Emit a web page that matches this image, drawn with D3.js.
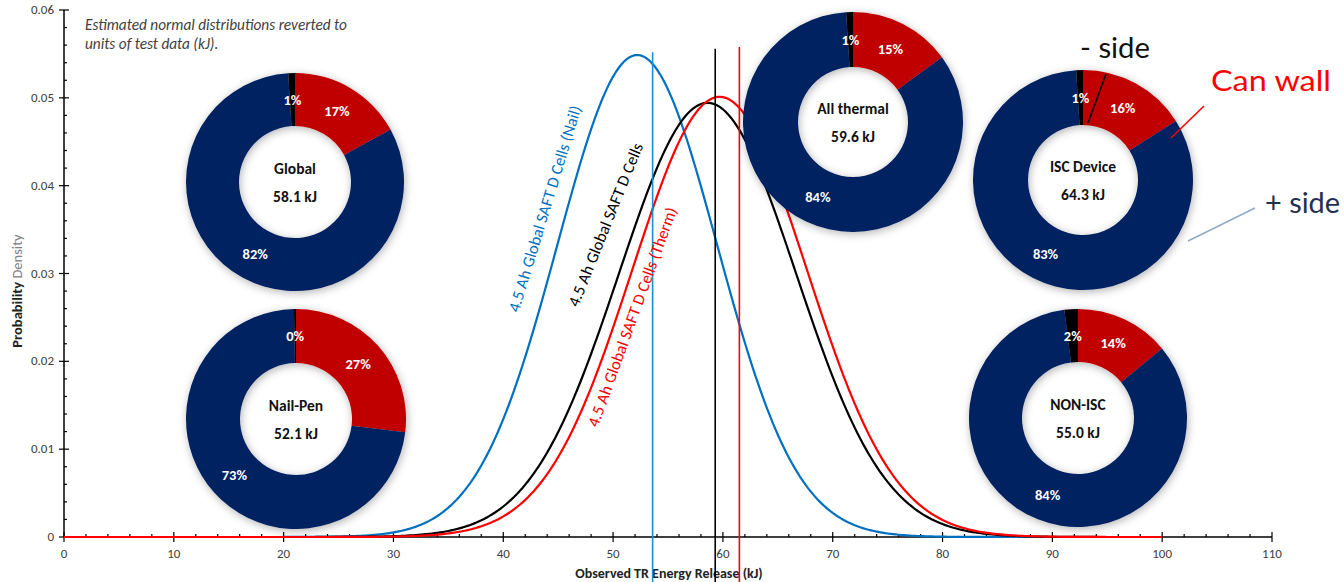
<!DOCTYPE html>
<html lang="en">
<head>
  <meta charset="UTF-8">
  <title>TR Energy Release distributions</title>
  <script src="https://d3js.org/d3.v7.min.js"></script>
  <style>
    body { margin: 0; background: #fff; }
    svg { display: block; font-family: Carlito, Calibri, "Liberation Sans", Arial, sans-serif; }
    .tick-label { font-size: 13px; fill: #404040; }
    .axis-title { font-size: 14px; font-weight: bold; fill: #222; }
    .y-title { font-size: 14.5px; font-weight: bold; fill: #222; }
    .curve-label { font-size: 16.5px; }
    .pct { font-size: 14.5px; font-weight: bold; fill: #fff; }
    .center-label { font-size: 15.5px; font-weight: bold; fill: #111; }
    .note { font-size: 15.3px; font-style: italic; fill: #404040; }
    .callout { font-family: Lato, "DejaVu Sans", sans-serif; font-size: 29px; }
  </style>
</head>
<body>
  <svg width="1344" height="582"></svg>

  <script>
    // estimated normal distributions (mean, std dev in kJ)
    const seriesNames = ["4.5 Ah Global SAFT D Cells (Nail)", "4.5 Ah Global SAFT D Cells", "4.5 Ah Global SAFT D Cells (Therm)"];
    const seriesMeans = [52.2, 58.6, 59.7];
    const seriesSds = [7.27, 8.07, 7.96];
    const seriesColors = ["#0070c0", "#000000", "#ff0000"];

    // vertical marker lines (observed averages)
    const markerX = [53.6, 59.3, 61.5];
    const markerTop = [0.0552, 0.0556, 0.0558];
    const markerColors = ["#1a90d0", "#000000", "#ff0000"];

    // donut charts: share of energy by location
    const donutNames = ["Global", "Nail-Pen", "All thermal", "ISC Device", "NON-ISC"];
    const donutTotals = ["58.1 kJ", "52.1 kJ", "59.6 kJ", "64.3 kJ", "55.0 kJ"];
    const canWall = [17, 27, 15, 16, 14];
    const plusSide = [82, 73, 84, 83, 84];
    const minusSide = [1, 0.3, 1, 1, 2];
    const sliceColors = ["#c00000", "#002060", "#000000"];

    const xTicks = d3.range(0, 111, 10);
    const yTicks = [0, 0.01, 0.02, 0.03, 0.04, 0.05, 0.06];

    const width = 1344, height = 582;
    const svg = d3.select("svg");

    const x = d3.scaleLinear().domain([0, 110]).range([64, 1272]);
    const y = d3.scaleLinear().domain([0, 0.06]).range([537, 10]);

    const defs = svg.append("defs");
    const f = defs.append("filter").attr("id", "shadow")
      .attr("x", "-20%").attr("y", "-20%").attr("width", "140%").attr("height", "140%");
    f.append("feDropShadow").attr("dx", 1).attr("dy", 2).attr("stdDeviation", 4)
      .attr("flood-color", "#000").attr("flood-opacity", 0.3);

    // note text
    svg.append("text").attr("class", "note").attr("x", 85).attr("y", 30)
      .text("Estimated normal distributions reverted to");
    svg.append("text").attr("class", "note").attr("x", 85).attr("y", 49)
      .text("units of test data (kJ).");

    // axes
    const axisG = svg.append("g");
    axisG.append("line").attr("x1", x(0)).attr("x2", x(110)).attr("y1", y(0)).attr("y2", y(0))
      .attr("stroke", "#000").attr("stroke-width", 1.5);
    axisG.append("line").attr("x1", x(0)).attr("x2", x(0)).attr("y1", y(0)).attr("y2", y(0.06))
      .attr("stroke", "#000").attr("stroke-width", 1.5);

    // x ticks
    d3.range(0, 111, 2).forEach(v => {
      const major = v % 10 === 0;
      axisG.append("line").attr("x1", x(v)).attr("x2", x(v))
        .attr("y1", major ? y(0) - 5 : y(0) - 3).attr("y2", major ? y(0) + 5 : y(0))
        .attr("stroke", "#000").attr("stroke-width", 1.2);
    });
    axisG.selectAll(".xl").data(xTicks).enter().append("text")
      .attr("class", "tick-label").attr("x", d => x(d)).attr("y", 558)
      .attr("text-anchor", "middle").text(d => d);

    // y ticks
    d3.range(0, 0.0601, 0.002).forEach(v => {
      const major = Math.abs(v * 100 - Math.round(v * 100)) < 1e-6;
      axisG.append("line").attr("y1", y(v)).attr("y2", y(v))
        .attr("x1", major ? x(0) - 5 : x(0)).attr("x2", major ? x(0) + 5 : x(0) + 3)
        .attr("stroke", "#000").attr("stroke-width", 1.2);
    });
    axisG.selectAll(".yl").data(yTicks).enter().append("text")
      .attr("class", "tick-label").attr("x", 54).attr("y", d => y(d) + 4)
      .attr("text-anchor", "end").text(d => d === 0 ? "0" : d3.format(".2f")(d));

    // axis titles
    svg.append("text").attr("class", "axis-title")
      .attr("x", 669).attr("y", 578).attr("text-anchor", "middle")
      .text("Observed TR Energy Release (kJ)");
    const yt = svg.append("text").attr("class", "y-title")
      .attr("transform", "translate(22,291) rotate(-90)").attr("text-anchor", "middle");
    yt.append("tspan").text("Probability ");
    yt.append("tspan").attr("fill", "#808080").attr("font-weight", "normal").text("Density");

    // density curves
    const xs = d3.range(0, 100.01, 0.25);
    const line = d3.line().x(d => x(d[0])).y(d => y(d[1]));
    seriesMeans.forEach((m, i) => {
      const s = seriesSds[i];
      const pts = xs.map(v => [v, Math.exp(-0.5 * ((v - m) / s) ** 2) / (s * Math.sqrt(2 * Math.PI))]);
      svg.append("path").datum(pts).attr("d", line)
        .attr("fill", "none").attr("stroke", seriesColors[i]).attr("stroke-width", 2.2);
    });

    // marker lines
    markerX.forEach((v, i) => {
      svg.append("line").attr("x1", x(v)).attr("x2", x(v))
        .attr("y1", y(markerTop[i])).attr("y2", height)
        .attr("stroke", markerColors[i]).attr("stroke-width", 1.6);
    });

    // rotated curve labels (anchor in data units)
    const labelPos = [[41.4, 0.0255, -73], [46.8, 0.0261, -68], [48.6, 0.0124, -70]];
    seriesNames.forEach((n, i) => {
      const p = labelPos[i];
      svg.append("text").attr("class", "curve-label")
        .attr("transform", `translate(${x(p[0])},${y(p[1])}) rotate(${p[2]})`)
        .attr("fill", seriesColors[i]).text(n);
    });

    // donuts
    const donutLayout = [
      { cx: 295, cy: 182, R: 109, r: 56 },
      { cx: 296, cy: 419, R: 110, r: 56 },
      { cx: 853, cy: 122, R: 110, r: 55 },
      { cx: 1083, cy: 180, R: 110, r: 55 },
      { cx: 1078, cy: 418, R: 109, r: 56 }
    ];
    const pie = d3.pie().sort(null).value(d => d);
    donutNames.forEach((name, i) => {
      const L = donutLayout[i];
      const vals = [canWall[i], plusSide[i], minusSide[i]];
      const total = d3.sum(vals);
      const arc = d3.arc().innerRadius(L.r).outerRadius(L.R);
      const labelArc = d3.arc().innerRadius((L.R + L.r) / 2).outerRadius((L.R + L.r) / 2);
      const g = svg.append("g").attr("transform", `translate(${L.cx},${L.cy})`);
      const slices = g.append("g").attr("filter", "url(#shadow)");
      slices.selectAll("path").data(pie(vals)).enter().append("path")
        .attr("d", arc).attr("fill", (d, j) => sliceColors[j]);
      g.selectAll(".pct").data(pie(vals)).enter().append("text")
        .attr("class", "pct")
        .attr("transform", d => `translate(${labelArc.centroid(d)})`)
        .attr("text-anchor", "middle").attr("dy", "0.35em")
        .text(d => Math.round(d.data / total * 100) + "%");
      g.append("text").attr("class", "center-label").attr("y", -13).attr("dy", "0.35em")
        .attr("text-anchor", "middle").text(name);
      g.append("text").attr("class", "center-label").attr("y", 15).attr("dy", "0.35em")
        .attr("text-anchor", "middle").text(donutTotals[i]);
    });

    // callouts
    svg.append("text").attr("class", "callout").attr("x", 1080).attr("y", 58)
      .attr("textLength", 70).attr("lengthAdjust", "spacingAndGlyphs")
      .attr("fill", "#111").text("- side");
    svg.append("line").attr("x1", 1106).attr("y1", 74).attr("x2", 1088).attr("y2", 123)
      .attr("stroke", "#000").attr("stroke-width", 1.5);
    svg.append("text").attr("class", "callout").attr("x", 1211).attr("y", 91)
      .attr("textLength", 120).attr("lengthAdjust", "spacingAndGlyphs")
      .attr("fill", "#ff0000").text("Can wall");
    svg.append("line").attr("x1", 1204).attr("y1", 106).attr("x2", 1171).attr("y2", 138)
      .attr("stroke", "#ff0000").attr("stroke-width", 1.5);
    svg.append("text").attr("class", "callout").attr("x", 1265).attr("y", 213)
      .attr("textLength", 75).attr("lengthAdjust", "spacingAndGlyphs")
      .attr("fill", "#1f3050").text("+ side");
    svg.append("line").attr("x1", 1255).attr("y1", 208).attr("x2", 1188).attr("y2", 241)
      .attr("stroke", "#8eaacb").attr("stroke-width", 1.5);
  </script>
</body>
</html>
